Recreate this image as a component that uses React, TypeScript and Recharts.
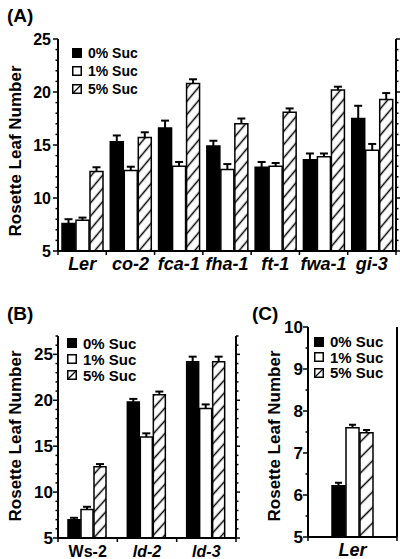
import React from "react";
import { Bar, BarChart, Legend, XAxis, YAxis } from "recharts";

const FONT = '"Liberation Sans", Arial, Helvetica, sans-serif';

const seriesNames = ["0% Suc", "1% Suc", "5% Suc"];
const seriesKeys = ["s0", "s1", "s5"];

// (A) rosette leaf number, Ler background mutants
const strainsA = ["Ler", "co-2", "fca-1", "fha-1", "ft-1", "fwa-1", "gi-3"];
const sucA0 = [7.6, 15.3, 16.6, 14.9, 12.9, 13.6, 17.5];
const sucA1 = [7.9, 12.6, 13.0, 12.7, 13.0, 13.9, 14.5];
const sucA5 = [12.5, 15.7, 20.8, 17.0, 18.1, 20.2, 19.3];
const errA0 = [0.4, 0.6, 0.7, 0.5, 0.5, 0.6, 1.2];
const errA1 = [0.25, 0.35, 0.4, 0.5, 0.3, 0.3, 0.6];
const errA5 = [0.4, 0.5, 0.4, 0.5, 0.35, 0.3, 0.6];
const ticksA = [5, 6, 7, 8, 9, 10, 11, 12, 13, 14, 15, 16, 17, 18, 19, 20, 21, 22, 23, 24, 25];

// (B) Ws-2 background
const strainsB = ["Ws-2", "ld-2", "ld-3"];
const sucB0 = [7.0, 19.8, 24.2];
const sucB1 = [8.1, 16.0, 19.1];
const sucB5 = [12.75, 20.6, 24.2];
const errB0 = [0.2, 0.35, 0.55];
const errB1 = [0.3, 0.4, 0.45];
const errB5 = [0.3, 0.35, 0.55];
const ticksB = [5, 6, 7, 8, 9, 10, 11, 12, 13, 14, 15, 16, 17, 18, 19, 20, 21, 22, 23, 24, 25, 26, 27];

// (C) Ler only
const strainsC = ["Ler"];
const sucC0 = [6.22];
const sucC1 = [7.6];
const sucC5 = [7.48];
const errC0 = [0.07];
const errC1 = [0.07];
const errC5 = [0.07];
const ticksC = [5, 5.5, 6, 6.5, 7, 7.5, 8, 8.5, 9, 9.5, 10];

const uprightLabels = ["Ws-2"];

function buildRows(cats: string[], v0: number[], v1: number[], v5: number[], e0: number[], e1: number[], e5: number[]) {
  return cats.map((name, i) => ({
    name,
    s0: v0[i],
    s1: v1[i],
    s5: v5[i],
    e0: e0[i],
    e1: e1[i],
    e5: e5[i],
  }));
}

const dataA = buildRows(strainsA, sucA0, sucA1, sucA5, errA0, errA1, errA5);
const dataB = buildRows(strainsB, sucB0, sucB1, sucB5, errB0, errB1, errB5);
const dataC = buildRows(strainsC, sucC0, sucC1, sucC5, errC0, errC1, errC5);

function Swatch({ kind }: { kind: string }) {
  return (
    <svg width={10} height={10} style={{ display: "block" }}>
      <rect x={0.75} y={0.75} width={8.5} height={8.5} fill={kind === "s0" ? "#000" : "#fff"} stroke="#000" strokeWidth={1.5} />
      {kind === "s5" && <line x1={0.75} y1={9.25} x2={9.25} y2={0.75} stroke="#000" strokeWidth={1.3} />}
    </svg>
  );
}

type PanelProps = {
  id: string;
  data: ReturnType<typeof buildRows>;
  width: number;
  height: number;
  margin: { top: number; right: number; left: number; bottom: number };
  domain: [number, number];
  ticks: number[];
  isMajor: (v: number) => boolean;
  rightTicks: boolean;
  rightWidth: number;
  xAxisHeight: number;
  barCategoryGap: number;
  hatchSpacing: number;
  hatchAngle: number;
  tickFont: number;
  labelGap: number;
  catFont: number;
  capWidth: number;
  legendTop: number;
  legendLeft: number;
  legendFont: number;
  legendRow: number;
  yLabelX: number;
  yLabelDy: number;
};

function Panel(p: PanelProps) {
  const hatchId = `hatch${p.id}`;

  const leftTick = (props: any) => {
    const { x, y, payload } = props;
    const major = p.isMajor(payload.value);
    return (
      <g>
        <line x1={x} x2={x - (major ? 5 : 2.5)} y1={y} y2={y} stroke="#000" strokeWidth={1.5} />
        {major && (
          <text x={x - p.labelGap} y={y} dy="0.36em" textAnchor="end" fontFamily={FONT} fontWeight="bold" fontSize={p.tickFont} fill="#000">
            {payload.value}
          </text>
        )}
      </g>
    );
  };

  const rightTick = (props: any) => {
    const { x, y, payload } = props;
    const major = p.isMajor(payload.value);
    return <line x1={x} x2={x + (major ? 4 : 2.5)} y1={y} y2={y} stroke="#000" strokeWidth={1.5} />;
  };

  const catTick = (props: any) => {
    const { x, y, payload, index } = props;
    const half = payload.offset ?? 0;
    const isLast = index === p.data.length - 1;
    const upright = uprightLabels.includes(payload.value);
    return (
      <g>
        <line x1={x - half} x2={x - half} y1={y} y2={y + 4} stroke="#000" strokeWidth={1.5} />
        {isLast && <line x1={x + half} x2={x + half} y1={y} y2={y + 4} stroke="#000" strokeWidth={1.5} />}
        <text x={x} y={y + 19} textAnchor="middle" fontFamily={FONT} fontWeight="bold" fontStyle={upright ? "normal" : "italic"} fontSize={p.catFont} fill="#000">
          {payload.value}
        </text>
      </g>
    );
  };

  // error segment stacked on top of each bar: stem plus a cap at the upper end only
  const errShape = (props: any) => {
    const { x, y, width, height } = props;
    if (x == null || y == null) return <g />;
    const cx = x + width / 2;
    return (
      <g>
        <line x1={cx} x2={cx} y1={y + height} y2={y} stroke="#000" strokeWidth={2} />
        <line x1={cx - p.capWidth / 2} x2={cx + p.capWidth / 2} y1={y} y2={y} stroke="#000" strokeWidth={2} />
      </g>
    );
  };

  const renderLegend = (props: any) => {
    const items = (props.payload || []).filter((entry: any) => seriesKeys.includes(entry.dataKey));
    return (
      <div style={{ fontFamily: FONT, fontWeight: "bold", fontSize: p.legendFont, color: "#000" }}>
        {items.map((entry: any) => (
          <div key={entry.dataKey} style={{ display: "flex", alignItems: "center", height: p.legendRow }}>
            <Swatch kind={entry.dataKey} />
            <span style={{ marginLeft: 6, whiteSpace: "nowrap" }}>{entry.value}</span>
          </div>
        ))}
      </div>
    );
  };

  const yLabel = (props: any) => {
    const vb = props.viewBox || { x: 0, y: 0, width: 0, height: 0 };
    const cy = vb.y + vb.height / 2 + p.yLabelDy;
    const cx = p.yLabelX;
    return (
      <text x={cx} y={cy} transform={`rotate(-90, ${cx}, ${cy})`} textAnchor="middle" dominantBaseline="central" fontFamily={FONT} fontWeight="bold" fontSize={17} fill="#000">
        Rosette Leaf Number
      </text>
    );
  };

  const axisLine = { stroke: "#000", strokeWidth: 2 };

  return (
    <BarChart width={p.width} height={p.height} data={p.data} margin={p.margin} barCategoryGap={p.barCategoryGap} barGap={1}>
      <defs>
        <pattern id={hatchId} patternUnits="userSpaceOnUse" width={p.hatchSpacing} height={p.hatchSpacing} patternTransform={`rotate(${p.hatchAngle})`}>
          <rect width={p.hatchSpacing} height={p.hatchSpacing} fill="#fff" />
          <line x1={p.hatchSpacing / 2} y1={0} x2={p.hatchSpacing / 2} y2={p.hatchSpacing} stroke="#000" strokeWidth={1.5} />
        </pattern>
      </defs>
      <XAxis dataKey="name" height={p.xAxisHeight} axisLine={axisLine} tickLine={false} tickSize={0} tickMargin={0} interval={0} tick={catTick} />
      <XAxis xAxisId="top" dataKey="name" orientation="top" height={0} axisLine={axisLine} tickLine={false} tick={false} />
      <YAxis
        type="number"
        domain={p.domain}
        ticks={p.ticks}
        allowDataOverflow
        width={58}
        axisLine={axisLine}
        tickLine={false}
        tickSize={0}
        tickMargin={0}
        interval={0}
        tick={leftTick}
        label={{ content: yLabel }}
      />
      <YAxis
        yAxisId="r"
        orientation="right"
        type="number"
        domain={p.domain}
        ticks={p.ticks}
        allowDataOverflow
        width={p.rightWidth}
        axisLine={axisLine}
        tickLine={false}
        tickSize={0}
        tickMargin={0}
        interval={0}
        tick={p.rightTicks ? rightTick : false}
      />
      <Legend
        layout="vertical"
        align="center"
        verticalAlign="middle"
        content={renderLegend}
        wrapperStyle={{ position: "absolute", top: p.legendTop, left: p.legendLeft, width: "auto", height: "auto" }}
      />
      <Bar dataKey="s0" stackId="a" name={seriesNames[0]} fill="#000" stroke="#000" strokeWidth={1.5} isAnimationActive={false} />
      <Bar dataKey="e0" stackId="a" legendType="none" shape={errShape} isAnimationActive={false} />
      <Bar dataKey="s1" stackId="b" name={seriesNames[1]} fill="#fff" stroke="#000" strokeWidth={1.5} isAnimationActive={false} />
      <Bar dataKey="e1" stackId="b" legendType="none" shape={errShape} isAnimationActive={false} />
      <Bar dataKey="s5" stackId="c" name={seriesNames[2]} fill={`url(#${hatchId})`} stroke="#000" strokeWidth={1.5} isAnimationActive={false} />
      <Bar dataKey="e5" stackId="c" legendType="none" shape={errShape} isAnimationActive={false} />
    </BarChart>
  );
}

const panelLabel: React.CSSProperties = {
  position: "absolute",
  fontFamily: FONT,
  fontWeight: "bold",
  fontSize: 19,
  lineHeight: "19px",
  color: "#000",
};

export default function App() {
  return (
    <div style={{ position: "absolute", left: 0, top: 0, width: 400, height: 559, background: "#fff", overflow: "hidden" }}>
      <div style={{ ...panelLabel, left: 7, top: 6 }}>(A)</div>
      <div style={{ ...panelLabel, left: 7, top: 304 }}>(B)</div>
      <div style={{ ...panelLabel, left: 252, top: 304 }}>(C)</div>

      <div style={{ position: "absolute", left: 0, top: 0 }}>
        <Panel
          id="A"
          data={dataA}
          width={400}
          height={280}
          margin={{ top: 39, right: 0, left: 0, bottom: 0 }}
          domain={[5, 25]}
          ticks={ticksA}
          isMajor={(v) => v % 5 === 0}
          rightTicks
          rightWidth={4}
          xAxisHeight={29}
          barCategoryGap={4}
          hatchSpacing={8.5}
          hatchAngle={40}
          tickFont={16}
          labelGap={7}
          catFont={18}
          capWidth={8}
          legendTop={44}
          legendLeft={72}
          legendFont={14}
          legendRow={18}
          yLabelX={15.5}
          yLabelDy={6}
        />
      </div>

      <div style={{ position: "absolute", left: 0, top: 280 }}>
        <Panel
          id="B"
          data={dataB}
          width={240}
          height={279}
          margin={{ top: 56, right: 0, left: 0, bottom: 0 }}
          domain={[5, 27]}
          ticks={ticksB}
          isMajor={(v) => v % 5 === 0}
          rightTicks
          rightWidth={4}
          xAxisHeight={21}
          barCategoryGap={10}
          hatchSpacing={8.5}
          hatchAngle={42}
          tickFont={17}
          labelGap={5}
          catFont={16}
          capWidth={8}
          legendTop={55}
          legendLeft={67}
          legendFont={15}
          legendRow={16}
          yLabelX={15.5}
          yLabelDy={-1}
        />
      </div>

      <div style={{ position: "absolute", left: 250, top: 280 }}>
        <Panel
          id="C"
          data={dataC}
          width={150}
          height={279}
          margin={{ top: 47, right: 0, left: 0, bottom: 0 }}
          domain={[5, 10]}
          ticks={ticksC}
          isMajor={(v) => Number.isInteger(v)}
          rightTicks={false}
          rightWidth={3}
          xAxisHeight={22}
          barCategoryGap={24}
          hatchSpacing={11}
          hatchAngle={45}
          tickFont={17}
          labelGap={5}
          catFont={18}
          capWidth={7}
          legendTop={54}
          legendLeft={64}
          legendFont={15}
          legendRow={15.5}
          yLabelX={24.5}
          yLabelDy={4}
        />
      </div>
    </div>
  );
}
